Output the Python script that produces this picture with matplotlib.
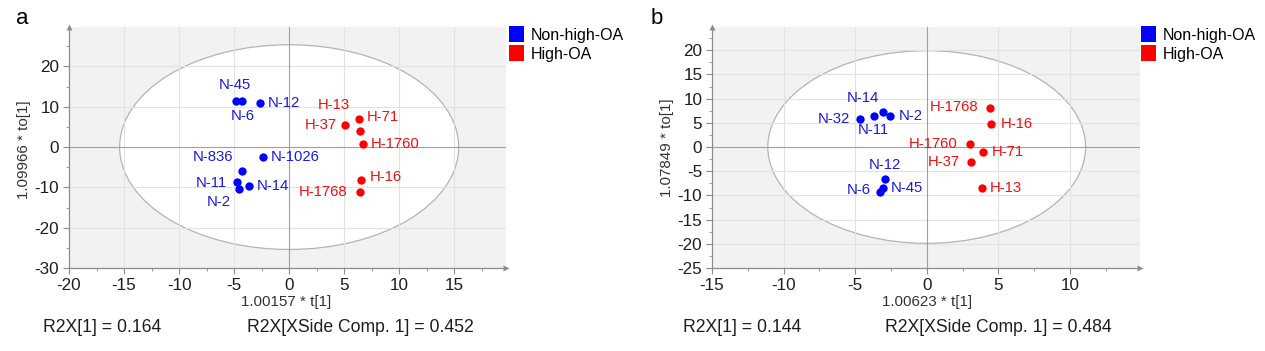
import matplotlib
matplotlib.use("Agg")
import matplotlib.pyplot as plt
from matplotlib.patches import Ellipse, Patch
from matplotlib.ticker import MultipleLocator

plt.rcParams["font.family"] = ["Liberation Sans", "DejaVu Sans"]
plt.rcParams["axes.unicode_minus"] = False

# ── panel a data (OPLS-DA scores) ─────────────────────────────────────
a_names = ["N-45", "N-6", "N-12", "N-1026", "N-836", "N-11", "N-2", "N-14",
           "H-37", "H-71", "H-13", "H-1760", "H-16", "H-1768"]
a_t = [-4.86, -4.25, -2.66, -2.41, -4.28, -4.74, -4.56, -3.64,
       5.11, 6.33, 6.45, 6.67, 6.51, 6.42]
a_to = [11.5, 11.4, 11.0, -2.5, -6.0, -8.7, -10.5, -9.6,
        5.4, 6.9, 4.0, 0.7, -8.2, -11.1]

# ── panel b data ──────────────────────────────────────────────────────
b_names = ["N-32", "N-11", "N-14", "N-2", "N-12", "N-45", "N-6",
           "H-1768", "H-16", "H-1760", "H-71", "H-37", "H-13"]
b_t = [-4.65, -3.71, -3.08, -2.58, -2.89, -3.06, -3.29,
       4.41, 4.51, 3.0, 3.94, 3.1, 3.87]
b_to = [5.7, 6.4, 7.2, 6.4, -6.7, -8.5, -9.2,
        8.1, 4.7, 0.56, -1.1, -3.0, -8.4]

groups = ["Non-high-OA", "High-OA"]
group_colors = {"N": "#0000ff", "H": "#ff0000"}
text_colors = {"N": "#1a1ae0", "H": "#f01010"}

# label placement (pixel offsets from the point, horizontal alignment)
a_label_pos = {
    "N-45": (-1, 16, "center"), "N-6": (0, -15, "center"),
    "N-12": (8, 0, "left"), "N-1026": (8, 0, "left"),
    "N-836": (-9, 14, "right"), "N-11": (-10, -1, "right"),
    "N-2": (-20, -13, "center"), "N-14": (8, 0, "left"),
    "H-37": (-9, 0, "right"), "H-71": (8, 2, "left"),
    "H-13": (-26, 26, "center"), "H-1760": (8, 0, "left"),
    "H-16": (9, 3, "left"), "H-1768": (-12, 0, "right"),
}
b_label_pos = {
    "N-32": (-10, 0, "right"), "N-11": (0, -14, "center"),
    "N-14": (-20, 14, "center"), "N-2": (9, 0, "left"),
    "N-12": (0, 14, "center"), "N-45": (8, 0, "left"),
    "N-6": (-9, 2, "right"),
    "H-1768": (-11, 1, "right"), "H-16": (9, 0, "left"),
    "H-1760": (-12, 0, "right"), "H-71": (9, 0, "left"),
    "H-37": (-11, 0, "right"), "H-13": (8, 0, "left"),
}

W, H = 1265, 351
DPI = 100
fig = plt.figure(figsize=(W / DPI, H / DPI), dpi=DPI)


def px(x0, y0, x1, y1):
    # pixel box (top-left origin) -> figure fraction rect
    return [x0 / W, 1 - y1 / H, (x1 - x0) / W, (y1 - y0) / H]


def score_panel(rect, names, t, to, label_pos, xlim, ylim, xmaj, ymaj,
                ymin_step, ell, gridy):
    ax = fig.add_axes(rect)
    ax.set_facecolor("#f2f2f2")
    ax.set_xlim(*xlim)
    ax.set_ylim(*ylim)
    ax.set_axisbelow("line")

    ax.add_patch(Ellipse((0, 0), 2 * ell[0], 2 * ell[1], facecolor="white",
                         edgecolor="#b4b4b4", lw=0.9, zorder=1))

    for v in range(-30, 31, 5):
        if v != 0 and xlim[0] < v < xlim[1]:
            ax.axvline(v, color="#e2e2e2", lw=0.8, zorder=1.5)
    for v in range(-30, 31, gridy):
        if v != 0 and ylim[0] < v < ylim[1]:
            ax.axhline(v, color="#e2e2e2", lw=0.8, zorder=1.5)
    ax.axvline(0, color="#a0a0a0", lw=0.8, zorder=1.6)
    ax.axhline(0, color="#a0a0a0", lw=0.8, zorder=1.6)

    for name, x, y in zip(names, t, to):
        g = name[0]
        ax.plot(x, y, "o", color=group_colors[g], ms=6, mec="none", zorder=3)
        dx, dy, ha = label_pos[name]
        ax.annotate(name, (x, y), xytext=(dx, dy), textcoords="offset pixels",
                    ha=ha, va="center", fontsize=10.7,
                    color=text_colors[g], zorder=4)

    for s in ["top", "right"]:
        ax.spines[s].set_visible(False)
    for s in ["left", "bottom"]:
        ax.spines[s].set_color("#8c8c8c")
        ax.spines[s].set_linewidth(0.9)

    ax.xaxis.set_minor_locator(MultipleLocator(2.5))
    ax.yaxis.set_major_locator(MultipleLocator(ymaj))
    ax.yaxis.set_minor_locator(MultipleLocator(ymin_step))
    ax.set_xticks([v for v in range(-30, 31, 5) if xlim[0] <= v <= xmaj])
    ax.tick_params(which="both", color="#8c8c8c", direction="out",
                   labelsize=12.3, labelcolor="#1e1e1e")
    ax.tick_params(which="major", length=4, width=0.8)
    ax.tick_params(which="minor", length=2, width=0.6)
    ax.tick_params(axis="y", pad=3)
    ax.tick_params(axis="x", pad=3)

    # arrow heads at the ends of the axes
    ax.plot([0], [1], marker="^", color="#8c8c8c", ms=5, mec="none",
            transform=ax.transAxes, clip_on=False, zorder=5)
    ax.plot([1], [0], marker=">", color="#8c8c8c", ms=5, mec="none",
            transform=ax.transAxes, clip_on=False, zorder=5)
    return ax


ax_a = score_panel(px(69, 27, 506, 268), a_names, a_t, a_to, a_label_pos,
                   (-20, 19.7), (-30, 29.8), 15, 10, 5, (15.4, 25.4), 10)
ax_b = score_panel(px(712, 27, 1140, 268), b_names, b_t, b_to, b_label_pos,
                   (-15, 14.9), (-25, 24.8), 10, 5, 2.5, (11.1, 19.9), 5)

handles = [Patch(facecolor="#0000ff", label=groups[0]),
           Patch(facecolor="#ff0000", label=groups[1])]
for ax, lx in [(ax_a, 509), (ax_b, 1141)]:
    ax.legend(handles=handles, loc="upper left",
              bbox_to_anchor=(lx / W, 1 - 26 / H),
              bbox_transform=fig.transFigure, frameon=False, fontsize=11.5,
              handlelength=0.95, handleheight=1.2, handletextpad=0.4,
              labelspacing=0.15, borderpad=0, borderaxespad=0)


def ftext(x, y, s, **kw):
    fig.text(x / W, 1 - y / H, s, **kw)


ftext(22, 19, "a", fontsize=16, ha="center", va="center")
ftext(657, 19, "b", fontsize=16, ha="center", va="center")

ftext(286, 302, "1.00157 * t[1]", fontsize=10.9, color="#333333",
      ha="center", va="center")
ftext(927, 302, "1.00623 * t[1]", fontsize=10.9, color="#333333",
      ha="center", va="center")
ftext(24, 150, "1.09966 * to[1]", fontsize=10.9, color="#333333",
      ha="center", va="center", rotation=90)
ftext(667, 148, "1.07849 * to[1]", fontsize=10.9, color="#333333",
      ha="center", va="center", rotation=90)

ftext(43, 327, "R2X[1] = 0.164", fontsize=12.7, va="center", color="#1e1e1e")
ftext(247, 327, "R2X[XSide Comp. 1] = 0.452", fontsize=12.7, va="center",
      color="#1e1e1e")
ftext(683, 327, "R2X[1] = 0.144", fontsize=12.7, va="center", color="#1e1e1e")
ftext(885, 327, "R2X[XSide Comp. 1] = 0.484", fontsize=12.7, va="center",
      color="#1e1e1e")

fig.savefig("out.png", dpi=DPI)
